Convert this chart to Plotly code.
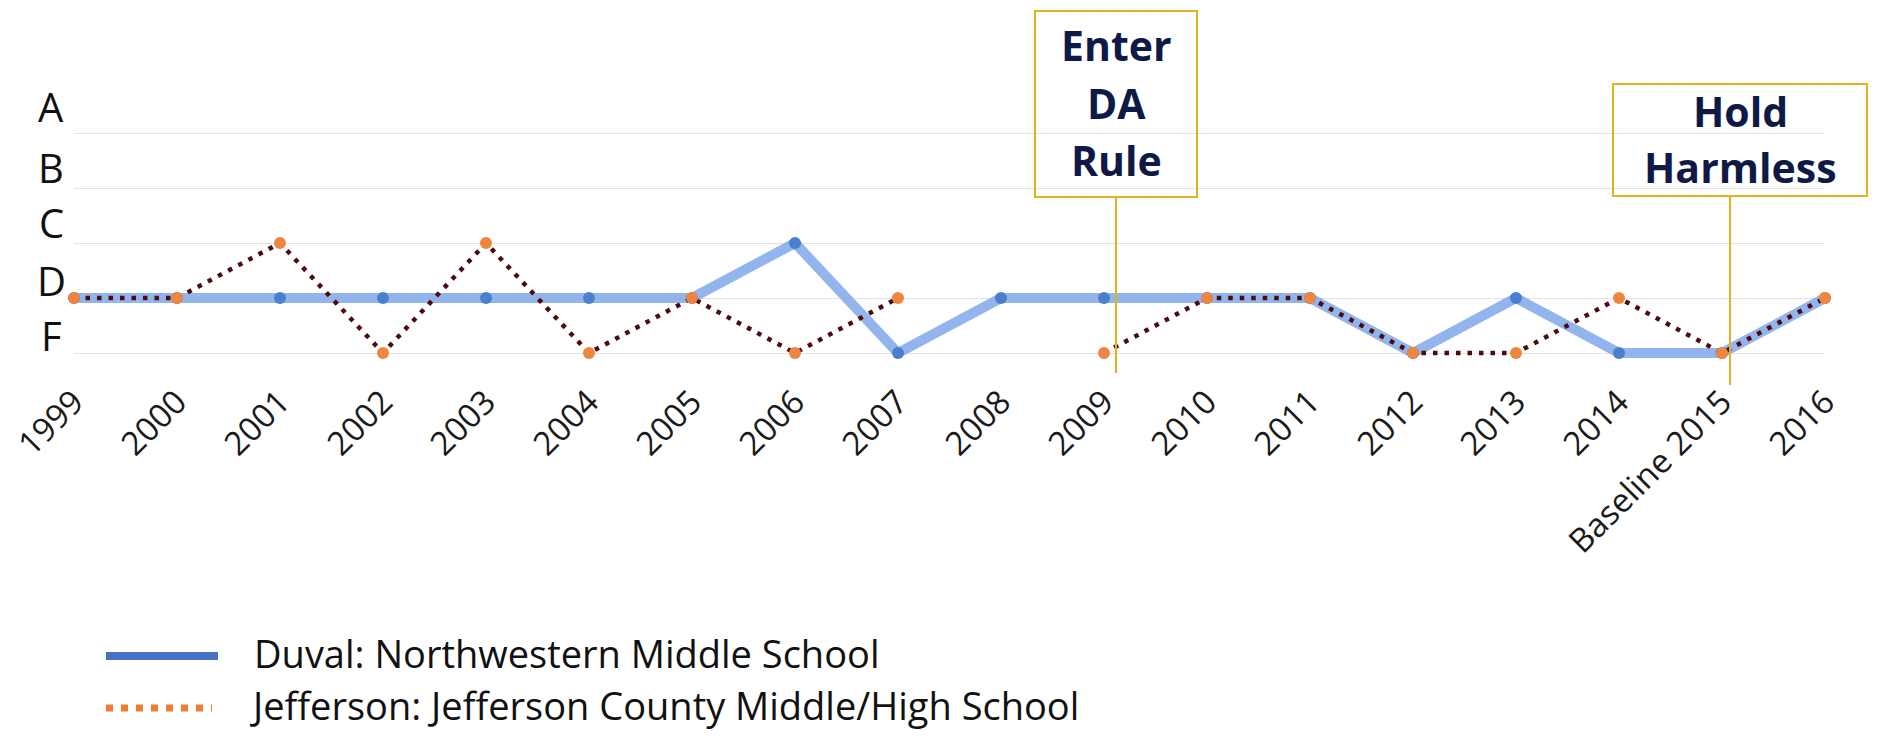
import plotly.graph_objects as go

# ---------------- data ----------------
years = ["1999", "2000", "2001", "2002", "2003", "2004", "2005", "2006", "2007",
         "2008", "2009", "2010", "2011", "2012", "2013", "2014", "Baseline 2015", "2016"]
grade_labels = ["F", "D", "C", "B", "A"]
grade_values = [0, 1, 2, 3, 4]
duval = ["D", "D", "D", "D", "D", "D", "D", "C", "F", "D",
         "D", "D", "D", "F", "D", "F", "F", "D"]
jefferson = ["D", "D", "C", "F", "C", "F", "D", "F", "D", None,
             "F", "D", "D", "F", "F", "D", "F", "D"]
series_names = ["Duval: Northwestern Middle School",
                "Jefferson: Jefferson County Middle/High School"]
events = [("2009", ["Enter", "DA", "Rule"]), ("Baseline 2015", ["Hold", "Harmless"])]

# ---------------- helpers ----------------
gmap = dict(zip(grade_labels, grade_values))
xidx = list(range(len(years)))
yd = [gmap[g] if g else None for g in duval]
yj = [gmap[g] if g else None for g in jefferson]

OFF = 8                      # page body margin
W, H = 1877 - 2 * OFF, 738 - 2 * OFF
ML, MR, MT, MB = 66, 44, 124, 722 - 367
PW, PH = W - ML - MR, H - MT - MB


def px_x(px):  # px given in page (reference) pixels
    return (px - OFF - ML) / PW


def px_y(py):
    return (H - MB - (py - OFF)) / PH


FONT = "Open Sans"
GOLD = "#E4B120"

fig = go.Figure()
fig.add_trace(go.Scatter(
    x=xidx, y=yd, mode="lines+markers", name=series_names[0],
    line=dict(color="rgba(128,168,234,0.85)", width=10),
    marker=dict(color="#4A7FCF", size=12),
    cliponaxis=False, showlegend=False))
fig.add_trace(go.Scatter(
    x=xidx, y=yj, mode="lines+markers", name=series_names[1],
    line=dict(color="#4E0B0E", width=4.5, dash="4.5px,7px"),
    marker=dict(color="#EE8640", size=12),
    connectgaps=False, cliponaxis=False, showlegend=False))

annotations = []
shapes = []

# grade letters (y labels) - centre of glyphs in page px
letter_y = {"A": 109, "B": 170, "C": 225, "D": 283, "F": 338}
for lab in grade_labels:
    annotations.append(dict(
        x=px_x(51), xref="paper", y=px_y(letter_y[lab] - 3), yref="paper",
        text=lab, showarrow=False, xanchor="center", yanchor="middle",
        font=dict(family=FONT, size=40, color="#111111")))

# event boxes with connector lines (page px)
box_specs = {
    "2009": dict(x0=1035, x1=1197, top=11, bottom=197, lx=1116, line_bottom=373,
                 tx=1116, ty=[48, 106, 163]),
    "Baseline 2015": dict(x0=1613, x1=1867, top=84, bottom=196, lx=1730, line_bottom=385,
                          tx=1740, ty=[114, 170]),
}
for yr, lines in events:
    s = box_specs[yr]
    shapes.append(dict(type="rect", xref="paper", yref="paper",
                       x0=px_x(s["x0"]), x1=px_x(s["x1"]),
                       y0=px_y(s["bottom"]), y1=px_y(s["top"]),
                       line=dict(color=GOLD, width=2), fillcolor="rgba(0,0,0,0)"))
    shapes.append(dict(type="line", xref="paper", yref="paper",
                       x0=px_x(s["lx"]), x1=px_x(s["lx"]),
                       y0=px_y(s["bottom"]), y1=px_y(s["line_bottom"]),
                       line=dict(color=GOLD, width=2)))
    for t, ty in zip(lines, s["ty"]):
        annotations.append(dict(
            x=px_x(s["tx"]), xref="paper", y=px_y(ty - 3), yref="paper",
            xanchor="center", yanchor="middle", text="<b>%s</b>" % t, showarrow=False,
            font=dict(family=FONT, size=41, color="#0E1A45")))

# custom legend (page px)
leg = [
    dict(y=656, color="#4472C4", dash="solid", width=8, x0=106, x1=218, tx=252),
    dict(y=708, color="#ED7D31", dash="7px,8px", width=7, x0=106, x1=212, tx=247),
]
for name, l in zip(series_names, leg):
    shapes.append(dict(type="line", xref="paper", yref="paper",
                       x0=px_x(l["x0"]), x1=px_x(l["x1"]), y0=px_y(l["y"]), y1=px_y(l["y"]),
                       line=dict(color=l["color"], width=l["width"], dash=l["dash"])))
    annotations.append(dict(
        x=px_x(l["tx"]), xref="paper", y=px_y(l["y"] - 3), yref="paper",
        xanchor="left", yanchor="middle", text=name, showarrow=False,
        font=dict(family=FONT, size=38, color="#111111")))

fig.update_layout(
    width=W, height=H, autosize=False,
    margin=dict(l=ML, r=MR, t=MT, b=MB, pad=0),
    paper_bgcolor="white", plot_bgcolor="white",
    showlegend=False,
    annotations=annotations, shapes=shapes,
    xaxis=dict(range=[0, len(years) - 1], tickmode="array", tickvals=xidx, ticktext=years,
               tickangle=-45, showgrid=False, zeroline=False, showline=False, ticks="",
               ticklabeloverflow="allow", automargin=False,
               tickfont=dict(family=FONT, size=33, color="#1a1a1a")),
    yaxis=dict(range=[-0.4, 4.02], tickmode="array", tickvals=grade_values,
               showticklabels=False, showgrid=True, gridcolor="#E3E3E3", gridwidth=1,
               zeroline=False, showline=False, ticks="", automargin=False),
)

fig.write_html("out.html")
